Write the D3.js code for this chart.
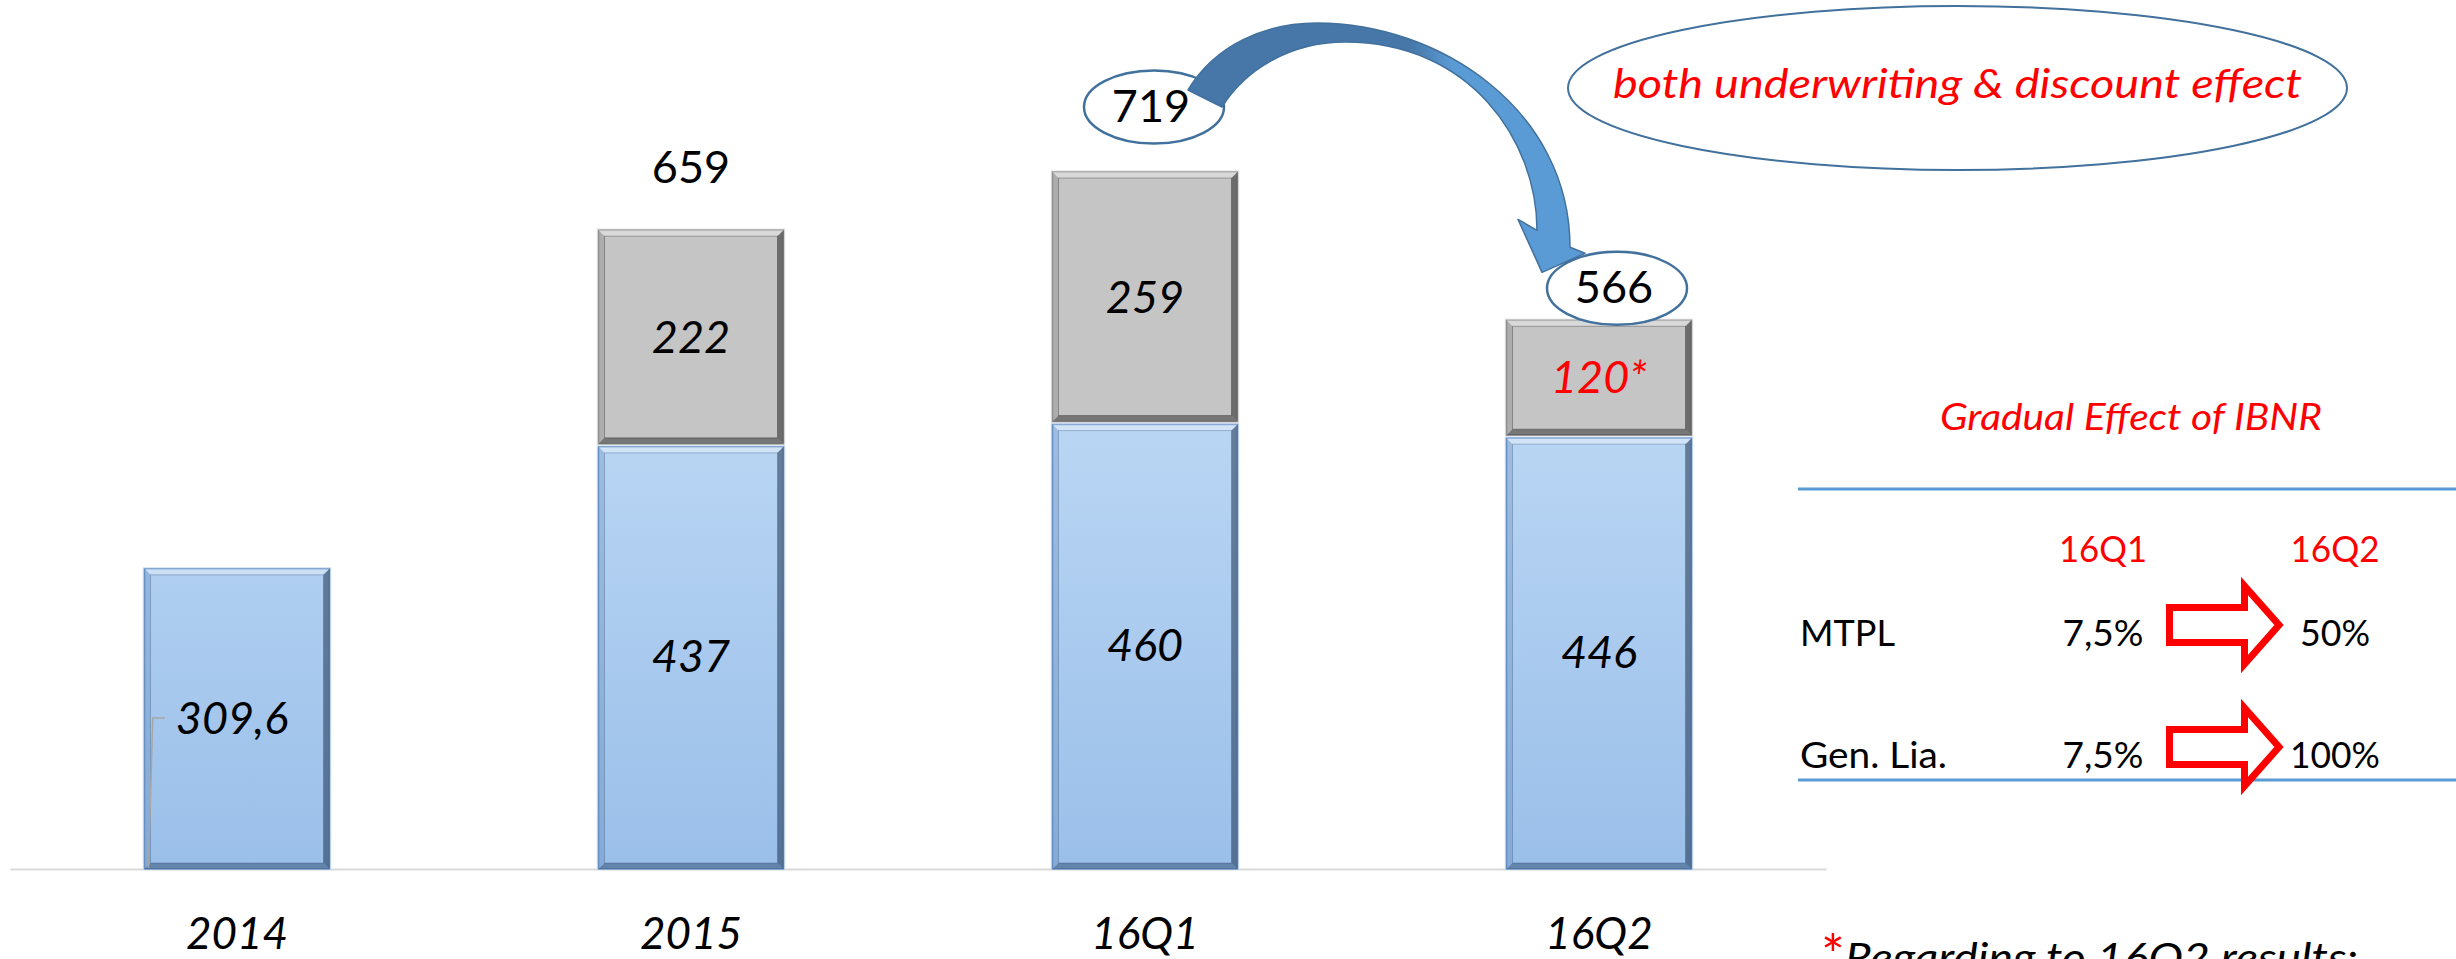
<!DOCTYPE html>
<html lang="en">
<head>
<meta charset="utf-8">
<title>IBNR effect</title>
<script src="https://cdn.jsdelivr.net/npm/d3@7"></script>
<style>
  body { margin: 0; background: #fff; }
  svg { display: block; font-family: Lato, "Open Sans", sans-serif; }
</style>
</head>
<body>
<script>
// data
var categories = ["2014", "2015", "16Q1", "16Q2"];
var baseValues = [309.6, 437, 460, 446];
var ibnrValues = [0, 222, 259, 120];
var baseLabels = ["309,6", "437", "460", "446"];
var ibnrLabels = ["", "222", "259", "120*"];
var totals = [null, 659, 719, 566];
var totalLabels = ["", "659", "719", "566"];
var circled = [false, false, true, true];

var tableCols = ["16Q1", "16Q2"];
var tableRows = ["MTPL", "Gen. Lia."];
var ratesQ1 = ["7,5%", "7,5%"];
var ratesQ2 = ["50%", "100%"];

var calloutText = "both underwriting & discount effect";
var panelTitle = "Gradual Effect of IBNR";
var footnoteText = "Regarding to 16Q2 results:";

// layout
var W = 2456, H = 959;
var totalOffsets = [null, {dx: 0, dy: 47}, {dx: 9, dy: 65}, {dx: 18, dy: 32}];

var svg = d3.select("body").append("svg")
  .attr("width", W)
  .attr("height", H);

var defs = svg.append("defs");

var blueGrad = defs.append("linearGradient")
  .attr("id", "blueGrad")
  .attr("gradientUnits", "userSpaceOnUse")
  .attr("x1", 0).attr("y1", 420).attr("x2", 0).attr("y2", 869);
blueGrad.append("stop").attr("offset", 0).attr("stop-color", "#bad6f4");
blueGrad.append("stop").attr("offset", 1).attr("stop-color", "#9abfe9");

var x = d3.scaleBand()
  .domain(categories)
  .range([10, 1826])
  .paddingInner(0.5925)
  .paddingOuter(0.29625);

var y = d3.scaleLinear()
  .domain([0, 719])
  .range([869, 172]);

// category axis
var gx = svg.append("g")
  .attr("transform", "translate(0,869)")
  .call(d3.axisBottom(x).tickSize(0).tickSizeOuter(0));

gx.select(".domain")
  .attr("stroke", "#d9d9d9")
  .attr("stroke-width", 2);

gx.selectAll(".tick text")
  .attr("y", 80)
  .attr("dy", null)
  .attr("fill", "#000")
  .style("font-family", "Lato")
  .style("font-size", "44px")
  .style("font-style", "italic");

// stacked bars
var table = categories.map(function (c, i) {
  return {cat: c, base: baseValues[i], ibnr: ibnrValues[i]};
});
var series = d3.stack().keys(["base", "ibnr"])(table);

var palettes = {
  base: {fill: "url(#blueGrad)", edge: "#6e97c9", rim: "#d4e3f3",
         top: "rgba(255,255,255,0.35)", left: "rgba(50,90,140,0.2)",
         right: "rgba(15,35,65,0.5)", bottom: "rgba(25,50,85,0.42)", inner: "rgba(40,70,110,0.3)"},
  ibnr: {fill: "#c5c5c5", edge: "#9a9a9a", rim: "#e8e8e8",
         top: "rgba(255,255,255,0.35)", left: "rgba(0,0,0,0.12)",
         right: "rgba(0,0,0,0.45)", bottom: "rgba(0,0,0,0.4)", inner: "rgba(0,0,0,0.28)"}
};

function bevel(g, x0, y0, x1, y1, pal) {
  var w = 6;
  g.append("rect")
    .attr("x", x0 - 1).attr("y", y0 - 1)
    .attr("width", x1 - x0 + 2).attr("height", y1 - y0 + 1)
    .attr("fill", "none").attr("stroke", pal.rim).attr("stroke-width", 1.5);
  g.append("rect")
    .attr("x", x0).attr("y", y0)
    .attr("width", x1 - x0).attr("height", y1 - y0)
    .attr("fill", pal.fill).attr("stroke", pal.edge).attr("stroke-width", 1.5);
  var polys = [
    [[x0, y0], [x1, y0], [x1 - w, y0 + w], [x0 + w, y0 + w], pal.top],
    [[x0, y0], [x0 + w, y0 + w], [x0 + w, y1 - w], [x0, y1], pal.left],
    [[x1, y0], [x1, y1], [x1 - w, y1 - w], [x1 - w, y0 + w], pal.right],
    [[x0, y1], [x0 + w, y1 - w], [x1 - w, y1 - w], [x1, y1], pal.bottom]
  ];
  polys.forEach(function (p) {
    g.append("path")
      .attr("d", "M" + p.slice(0, 4).join("L") + "Z")
      .attr("fill", p[4]);
  });
  g.append("rect")
    .attr("x", x0 + w).attr("y", y0 + w)
    .attr("width", x1 - x0 - 2 * w).attr("height", y1 - y0 - 2 * w)
    .attr("fill", "none").attr("stroke", pal.inner).attr("stroke-width", 1);
}

var bars = svg.append("g");
series.forEach(function (s) {
  s.forEach(function (d, i) {
    if (d[1] <= d[0]) return;
    var x0 = x(d.data.cat), x1 = x0 + x.bandwidth();
    var hasAbove = s.key === "base" && d.data.ibnr > 0;
    var yTop = y(d[1]) + (hasAbove ? 1.5 : 0);
    var yBot = y(d[0]) - (s.key === "ibnr" ? 1.5 : 0);
    bevel(bars.append("g"), x0, yTop, x1, yBot, palettes[s.key]);
  });
});

// segment labels
var labels = svg.append("g")
  .style("font-size", "45px")
  .style("font-style", "italic");

series.forEach(function (s) {
  s.forEach(function (d, i) {
    if (d[1] <= d[0]) return;
    var txt = s.key === "base" ? baseLabels[i] : ibnrLabels[i];
    var cx = x(d.data.cat) + x.bandwidth() / 2 - (i === 0 ? 5 : 0);
    var cy = (y(d[0]) + y(d[1])) / 2;
    var t = labels.append("text")
      .attr("x", cx)
      .attr("y", cy + 15)
      .attr("text-anchor", "middle")
      .attr("fill", txt.indexOf("*") >= 0 ? "#ff0000" : "#000")
      .text(txt);
    if (i === 0) {
      // leader line of the moved 2014 label
      var left = cx - t.node().getComputedTextLength() / 2;
      svg.append("path")
        .attr("d", "M" + (left - 11) + "," + (cy - 1) + "H" + (left - 23) +
          "L" + (x(d.data.cat) + 4) + "," + (y(0) - 1))
        .attr("fill", "none")
        .attr("stroke", "#a6a6a6")
        .attr("stroke-width", 1.5);
    }
  });
});

// totals
var ellA = null, ellB = null;
totals.forEach(function (v, i) {
  if (v == null) return;
  var cx = x(categories[i]) + x.bandwidth() / 2 + totalOffsets[i].dx;
  var cy = y(v) - totalOffsets[i].dy;
  if (circled[i]) {
    if (!ellA) ellA = {x: cx, y: cy}; else ellB = {x: cx, y: cy};
  } else {
    svg.append("text")
      .attr("x", cx).attr("y", cy)
      .attr("text-anchor", "middle")
      .style("font-size", "45px")
      .text(totalLabels[i]);
  }
});

function drawTotalEllipse(p, txt) {
  svg.append("ellipse")
    .attr("cx", p.x).attr("cy", p.y)
    .attr("rx", 70).attr("ry", 36.5)
    .attr("fill", "#fff")
    .attr("stroke", "#41719c")
    .attr("stroke-width", 2.5);
  svg.append("text")
    .attr("x", p.x - 3).attr("y", p.y + 15)
    .attr("text-anchor", "middle")
    .style("font-size", "45px")
    .text(txt);
}

drawTotalEllipse(ellA, totalLabels[2]);

// curved arrow from 16Q1 total to 16Q2 total
var arrowGrad = defs.append("linearGradient")
  .attr("id", "arrowGrad")
  .attr("gradientUnits", "userSpaceOnUse")
  .attr("x1", ellA.x + 255).attr("y1", 0)
  .attr("x2", ellA.x + 300).attr("y2", 0);
arrowGrad.append("stop").attr("offset", 0).attr("stop-color", "#4677a8");
arrowGrad.append("stop").attr("offset", 1).attr("stop-color", "#5b9bd5");

function pa(dx, dy) { return (ellA.x + dx) + "," + (ellA.y + dy); }
function pb(dx, dy) { return (ellB.x + dx) + "," + (ellB.y + dy); }

var arrowPath =
  "M" + pa(34, -17) +
  "C" + pa(61, -62) + " " + pa(111, -84) + " " + pa(163, -84) +
  "C" + pa(286, -84) + " " + pb(-47, -178) + " " + pb(-47, -41) +
  "L" + pb(-32, -35) +
  "L" + pb(-75, -16) +
  "L" + pb(-99, -69) +
  "L" + pb(-80, -58) +
  "C" + pb(-80, -148) + " " + pa(316, -65) + " " + pa(191, -65) +
  "C" + pa(136, -65) + " " + pa(91, -37) + " " + pa(68, 0) + "Z";

svg.append("path")
  .attr("d", arrowPath)
  .attr("fill", "url(#arrowGrad)")
  .attr("stroke", "#41719c")
  .attr("stroke-width", 1.5)
  .attr("stroke-linejoin", "round");

drawTotalEllipse(ellB, totalLabels[3]);

// callout
svg.append("ellipse")
  .attr("cx", 1957.5).attr("cy", 88)
  .attr("rx", 389.5).attr("ry", 82)
  .attr("fill", "none")
  .attr("stroke", "#41719c")
  .attr("stroke-width", 2);

svg.append("text")
  .attr("x", 1957.5).attr("y", 98)
  .attr("text-anchor", "middle")
  .attr("fill", "#ff0000")
  .attr("textLength", 689)
  .attr("lengthAdjust", "spacingAndGlyphs")
  .style("font-size", "41px")
  .style("font-style", "italic")
  .text(calloutText);

// right panel
var panel = svg.append("g").style("font-size", "36px");

panel.append("text")
  .attr("x", 1940).attr("y", 430)
  .attr("fill", "#ff0000")
  .attr("textLength", 382)
  .attr("lengthAdjust", "spacingAndGlyphs")
  .style("font-size", "37px")
  .style("font-style", "italic")
  .text(panelTitle);

[489, 780].forEach(function (ly) {
  panel.append("line")
    .attr("x1", 1798).attr("x2", W)
    .attr("y1", ly).attr("y2", ly)
    .attr("stroke", "#5b9bd5")
    .attr("stroke-width", 3);
});

var colX = d3.scaleOrdinal().domain(tableCols).range([2103, 2335]);
var rowY = d3.scaleOrdinal().domain(tableRows).range([646, 768]);
var widths = {"16Q1": 88, "16Q2": 89, "MTPL": 95, "Gen. Lia.": 147,
              "7,5%": 81, "50%": 70, "100%": 90};

function cell(txt, xx, yy, anchor, color) {
  panel.append("text")
    .attr("x", xx).attr("y", yy)
    .attr("text-anchor", anchor)
    .attr("fill", color)
    .attr("textLength", widths[txt])
    .attr("lengthAdjust", "spacingAndGlyphs")
    .text(txt);
}

tableCols.forEach(function (c) {
  cell(c, colX(c), 562, "middle", "#ff0000");
});

tableRows.forEach(function (r, i) {
  var yy = rowY(r);
  cell(r, 1800, yy, "start", "#000");
  cell(ratesQ1[i], colX(tableCols[0]), yy, "middle", "#000");
  cell(ratesQ2[i], colX(tableCols[1]), yy, "middle", "#000");
  // block arrow between columns
  var yc = yy - 21, xs = 2169.5;
  panel.append("path")
    .attr("d", "M" + xs + "," + (yc - 17.5) + "H" + (xs + 75) + "V" + (yc - 39) +
      "L" + (xs + 109.5) + "," + yc + "L" + (xs + 75) + "," + (yc + 39) +
      "V" + (yc + 17.5) + "H" + xs + "Z")
    .attr("fill", "#fff")
    .attr("stroke", "#ff0000")
    .attr("stroke-width", 7)
    .attr("stroke-linejoin", "miter");
});

// footnote, cut by the bottom edge as in the source
svg.append("text")
  .attr("x", 1821).attr("y", 975)
  .attr("fill", "#ff0000")
  .style("font-size", "56px")
  .text("*");

svg.append("text")
  .attr("x", 1845).attr("y", 972)
  .attr("fill", "#000")
  .attr("textLength", 513)
  .attr("lengthAdjust", "spacingAndGlyphs")
  .style("font-size", "41px")
  .style("font-style", "italic")
  .text(footnoteText);
</script>
</body>
</html>
